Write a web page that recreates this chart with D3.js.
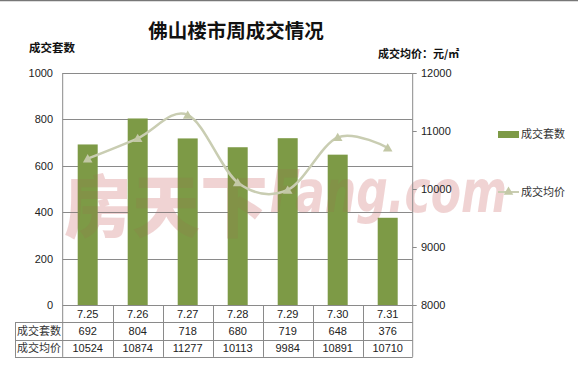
<!DOCTYPE html>
<html>
<head>
<meta charset="utf-8">
<script src="https://cdn.jsdelivr.net/npm/d3@7"></script>
<style>
  body { margin: 0; background: #fff; }
  svg { display: block; }
  text { font-family: "Liberation Sans", "Noto Sans CJK SC", sans-serif; fill: #222; }
  .cjk { font-family: "Noto Sans CJK SC", sans-serif; }
</style>
</head>
<body>
<div id="chart"></div>
<script>
(function(){
  'use strict';

  var dates = ['7.25', '7.26', '7.27', '7.28', '7.29', '7.30', '7.31'],
      units = [692, 804, 718, 680, 719, 648, 376],
      prices = [10524, 10874, 11277, 10113, 9984, 10891, 10710],
      leftTicks = [0, 200, 400, 600, 800, 1000],
      rightTicks = [8000, 9000, 10000, 11000, 12000],
      seriesNames = ['成交套数', '成交均价'];

  var w = 578,
      h = 382,
      left = 62.7,
      right = 412.7,
      top = 73,
      bottom = 305,
      rowH = 17.3,
      barColor = '#7d9a46',
      lineColor = '#c9cdb2',
      grid = '#8a8a8a';

  var svg = d3.select('#chart').append('svg')
      .attr('width', w)
      .attr('height', h);

  // top rule of the screenshot
  svg.append('line')
    .attr('x1', 0).attr('x2', w).attr('y1', 0.5).attr('y2', 0.5)
    .style('stroke', '#777').style('stroke-width', 1.5);

  var x = d3.scaleBand()
      .domain(dates)
      .range([left, right]);

  var yL = d3.scaleLinear()
      .domain([0, 1000])
      .range([bottom, top]);

  var yR = d3.scaleLinear()
      .domain([8000, 12000])
      .range([bottom, top]);

  function watermark(g, color) {
    g.append('text')
      .attr('class', 'cjk')
      .attr('x', 64).attr('y', 232)
      .style('font-size', '68px').style('font-weight', 900)
      .style('fill', color)
      .text('房天下');
    g.append('text')
      .attr('transform', 'translate(270,212) scale(1,1.35)')
      .attr('textLength', 237).attr('lengthAdjust', 'spacingAndGlyphs')
      .style('font-size', '44px').style('font-weight', 'bold').style('font-style', 'italic')
      .style('font-family', '"DejaVu Sans", sans-serif')
      .style('fill', color)
      .text('Fang.com');
  }

  watermark(svg.append('g').style('opacity', 0.2), '#e07a7a');

  // gridlines
  svg.append('g').selectAll('line')
    .data(leftTicks.filter(function(d){ return d > 0; }))
    .enter().append('line')
    .attr('x1', left).attr('x2', right)
    .attr('y1', function(d){ return Math.round(yL(d)) + 0.5; })
    .attr('y2', function(d){ return Math.round(yL(d)) + 0.5; })
    .style('stroke', grid);

  // bars
  var bw = x.bandwidth() * 0.4;
  svg.append('g').selectAll('rect')
    .data(units)
    .enter().append('rect')
    .attr('x', function(d, i){ return x(dates[i]) + (x.bandwidth() - bw) / 2; })
    .attr('y', function(d){ return yL(d); })
    .attr('width', bw)
    .attr('height', function(d){ return bottom - yL(d); })
    .style('fill', barColor);

  // faint watermark showing through the bars
  watermark(svg.append('g').style('opacity', 0.1), '#b05050');

  // vertical axis borders
  svg.append('line')
    .attr('x1', left).attr('x2', left).attr('y1', top).attr('y2', bottom + 3 * rowH)
    .style('stroke', grid);
  svg.append('line')
    .attr('x1', right).attr('x2', right).attr('y1', top).attr('y2', bottom + 3 * rowH)
    .style('stroke', grid);

  // left axis labels
  svg.append('g').selectAll('text')
    .data(leftTicks)
    .enter().append('text')
    .attr('x', 53)
    .attr('y', function(d){ return yL(d) + 4; })
    .attr('text-anchor', 'end')
    .style('font-size', '11px')
    .text(function(d){ return d; });

  // right axis ticks + labels
  svg.append('g').selectAll('line')
    .data(rightTicks)
    .enter().append('line')
    .attr('x1', right).attr('x2', right + 4)
    .attr('y1', function(d){ return Math.round(yR(d)) + 0.5; })
    .attr('y2', function(d){ return Math.round(yR(d)) + 0.5; })
    .style('stroke', grid);
  svg.append('g').selectAll('text')
    .data(rightTicks)
    .enter().append('text')
    .attr('x', 421)
    .attr('y', function(d){ return yR(d) + 4; })
    .style('font-size', '11px')
    .text(function(d){ return d; });

  // smoothed price line
  var line = d3.line()
    .x(function(d, i){ return x(dates[i]) + x.bandwidth() / 2; })
    .y(function(d){ return yR(d); })
    .curve(d3.curveCardinal.tension(0));

  svg.append('path')
    .datum(prices)
    .attr('d', line)
    .style('fill', 'none')
    .style('stroke', lineColor)
    .style('stroke-width', 2.5);

  var tri = d3.symbol().type(d3.symbolTriangle).size(40);
  svg.append('g').selectAll('path')
    .data(prices)
    .enter().append('path')
    .attr('d', tri)
    .attr('transform', function(d, i){
      return 'translate(' + (x(dates[i]) + x.bandwidth() / 2) + ',' + (yR(d) + 1) + ')';
    })
    .style('fill', '#c3c8a6');

  // data table
  var tbl = svg.append('g');
  [bottom, bottom + rowH, bottom + 2 * rowH, bottom + 3 * rowH].forEach(function(yy, i){
    tbl.append('line')
      .attr('x1', i === 0 ? left : 15).attr('x2', right)
      .attr('y1', Math.round(yy) + 0.5).attr('y2', Math.round(yy) + 0.5)
      .style('stroke', grid);
  });
  tbl.append('line')
    .attr('x1', 15.5).attr('x2', 15.5)
    .attr('y1', bottom + rowH).attr('y2', bottom + 3 * rowH)
    .style('stroke', grid);
  tbl.selectAll('.sep')
    .data(dates.slice(1))
    .enter().append('line')
    .attr('class', 'sep')
    .attr('x1', function(d){ return Math.round(x(d)) + 0.5; })
    .attr('x2', function(d){ return Math.round(x(d)) + 0.5; })
    .attr('y1', bottom).attr('y2', bottom + 3 * rowH)
    .style('stroke', grid);

  var rows = [dates, units, prices];
  rows.forEach(function(row, r){
    tbl.append('g').selectAll('text')
      .data(row)
      .enter().append('text')
      .attr('x', function(d, i){ return x(dates[i]) + x.bandwidth() / 2; })
      .attr('y', bottom + r * rowH + 12.5)
      .attr('text-anchor', 'middle')
      .style('font-size', '11px')
      .text(function(d){ return d; });
  });
  seriesNames.forEach(function(name, r){
    tbl.append('text')
      .attr('class', 'cjk')
      .attr('x', 39)
      .attr('y', bottom + (r + 1) * rowH + 12.5)
      .attr('text-anchor', 'middle')
      .style('font-size', '11px')
      .style('fill', '#333')
      .text(name);
  });

  // titles
  svg.append('text')
    .attr('class', 'cjk')
    .attr('x', 236).attr('y', 38)
    .attr('text-anchor', 'middle')
    .style('font-size', '19.5px').style('font-weight', 'bold')
    .style('fill', '#111')
    .text('佛山楼市周成交情况');
  svg.append('text')
    .attr('class', 'cjk')
    .attr('x', 29).attr('y', 52)
    .style('font-size', '11.5px').style('font-weight', 'bold')
    .style('fill', '#111')
    .text('成交套数');
  svg.append('text')
    .attr('class', 'cjk')
    .attr('x', 378).attr('y', 58)
    .style('font-size', '11px').style('font-weight', 'bold')
    .style('fill', '#111')
    .text('成交均价：元/㎡');

  // legend
  var lg = svg.append('g');
  lg.append('rect')
    .attr('x', 498).attr('y', 131).attr('width', 21).attr('height', 7)
    .style('fill', barColor);
  lg.append('text')
    .attr('class', 'cjk')
    .attr('x', 521).attr('y', 138)
    .style('font-size', '11px').style('fill', '#333')
    .text(seriesNames[0]);
  lg.append('line')
    .attr('x1', 498).attr('x2', 519).attr('y1', 192).attr('y2', 192)
    .style('stroke', lineColor).style('stroke-width', 2);
  lg.append('path')
    .attr('d', tri)
    .attr('transform', 'translate(508.5,192)')
    .style('fill', '#c3c8a6');
  lg.append('text')
    .attr('class', 'cjk')
    .attr('x', 521).attr('y', 196)
    .style('font-size', '11px').style('fill', '#333')
    .text(seriesNames[1]);
}());
</script>
</body>
</html>
